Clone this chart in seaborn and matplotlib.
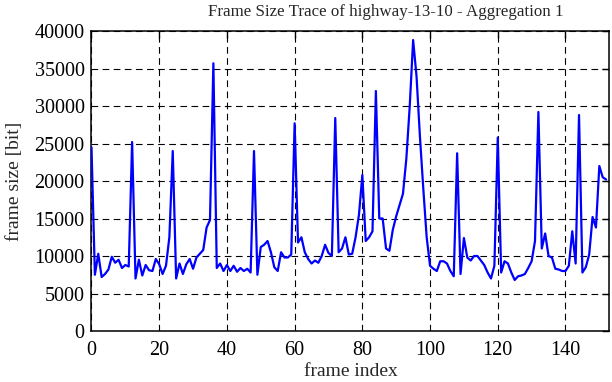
import matplotlib

matplotlib.use("Agg")
import matplotlib.pyplot as plt
import numpy as np
import pandas as pd
import seaborn as sns

# frame sizes in bit (frames 0..152)
frame_size = [
    24500, 7500, 10300, 7200, 7600, 8200, 9900, 9100, 9500, 8400,
    8800, 8600, 25200, 7000, 9500, 7400, 8800, 8100, 8000, 9600,
    8900, 7600, 8700, 12500, 24000, 7000, 9000, 7600, 8900, 9600,
    8300, 9800, 10300, 10800, 13800, 14800, 35700, 8400, 9000, 8000,
    8800, 8000, 8700, 7900, 8400, 8000, 8300, 7800, 24000, 7500,
    11200, 11500, 12000, 10500, 8500, 8000, 10500, 9800, 9800, 10200,
    27700, 11800, 12500, 10500, 9600, 9000, 9400, 9100, 10000, 11500,
    10400, 10000, 28400, 10500, 11000, 12500, 10200, 10300, 12500, 15500,
    20800, 12000, 12500, 13300, 32000, 15000, 15000, 11000, 10700, 13500,
    15300, 16800, 18300, 23000, 30000, 38800, 34000, 26000, 19000, 12500,
    8700, 8300, 8000, 9300, 9300, 9000, 8000, 7300, 23700, 7600,
    12400, 9800, 9400, 10000, 10000, 9400, 8800, 7800, 7000, 8700,
    25800, 7800, 9300, 9000, 7800, 6800, 7300, 7400, 7600, 8400,
    9300, 12000, 29200, 11000, 13000, 10000, 9800, 8300, 8200, 8000,
    8000, 8700, 13300, 9000, 28800, 7800, 8500, 10200, 15200, 13800,
    22000, 20500, 20200,
]
frame_index = list(range(len(frame_size)))

x_ticks = [0, 20, 40, 60, 80, 100, 120, 140]
y_ticks = [0, 5000, 10000, 15000, 20000, 25000, 30000, 35000, 40000]

df = pd.DataFrame({"frame index": frame_index, "frame size [bit]": frame_size})

sns.set_theme(style="white")
plt.rcParams["font.family"] = ["Liberation Serif", "DejaVu Serif"]

fig = plt.figure(figsize=(6.12, 3.82), dpi=100)
ax = fig.add_axes([0.1495, 0.1335, 0.8464, 0.7853])

sns.lineplot(data=df, x="frame index", y="frame size [bit]", ax=ax,
             color="#0000ff", linewidth=1.6, zorder=3)

ax.set_xlim(0, 153)
ax.set_ylim(0, 40000)
ax.set_xticks(x_ticks)
ax.set_yticks(y_ticks)
ax.set_xticklabels([str(t) for t in x_ticks])
ax.set_yticklabels([str(t) for t in y_ticks])

ax.grid(True, color="black", linestyle=(0, (6, 4)), linewidth=0.8)
ax.tick_params(direction="in", length=5, width=1, top=True, right=True,
               labelsize=14.5, colors="black")
ax.tick_params(axis="x", pad=7)
ax.tick_params(axis="y", pad=5)
for s in ax.spines.values():
    s.set_color("black")
    s.set_linewidth(1.1)

ax.set_xlabel("frame index", fontsize=14, labelpad=2)
ax.set_ylabel("frame size [bit]", fontsize=14, labelpad=8)
ax.set_title("Frame Size Trace of highway-13-10 - Aggregation 1",
             fontsize=12.2, x=0.5685, pad=11)

fig.savefig("out.png", dpi=100)
plt.close(fig)
